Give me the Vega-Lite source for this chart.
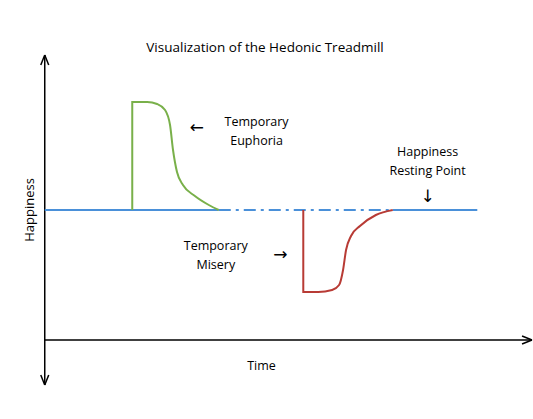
{
  "$schema": "https://vega.github.io/schema/vega-lite/v6.json",
  "width": 533,
  "height": 419,
  "autosize": {"type": "fit", "contains": "padding"},
  "padding": 0,
  "background": "white",
  "config": {"view": {"stroke": null}},
  "title": {"text": "Visualization of the Hedonic Treadmill", "font": "Open Sans", "fontSize": 13.5, "fontWeight": "normal", "offset": -54, "color": "black"},
  "layer": [
    {
      "data": {"values": [
        {"x": 45, "y": 55, "x2": 45, "y2": 385},
        {"x": 45, "y": 340, "x2": 535, "y2": 340},
        {"x": 45, "y": 55, "x2": 41, "y2": 65},
        {"x": 45, "y": 55, "x2": 49, "y2": 65},
        {"x": 45, "y": 385, "x2": 41, "y2": 375},
        {"x": 45, "y": 385, "x2": 49, "y2": 375},
        {"x": 535, "y": 340, "x2": 525, "y2": 336},
        {"x": 535, "y": 340, "x2": 525, "y2": 344}
      ]},
      "mark": {"type": "rule", "color": "black", "strokeWidth": 1.5},
      "encoding": {
        "x": {"field": "x", "type": "quantitative", "scale": {"domain": [0, 533]}, "axis": null},
        "y": {"field": "y", "type": "quantitative", "scale": {"domain": [419, 0]}, "axis": null},
        "x2": {"field": "x2"},
        "y2": {"field": "y2"}
      }
    },
    {
      "data": {"values": [
        {"s": "a", "x": 45, "y": 210}, {"s": "a", "x": 220, "y": 210},
        {"s": "c", "x": 395, "y": 210}, {"s": "c", "x": 480, "y": 210}
      ]},
      "mark": {"type": "line", "color": "#4a90d9", "strokeWidth": 1.8},
      "encoding": {
        "x": {"field": "x", "type": "quantitative", "scale": {"domain": [0, 533]}, "axis": null},
        "y": {"field": "y", "type": "quantitative", "scale": {"domain": [419, 0]}, "axis": null},
        "detail": {"field": "s"}
      }
    },
    {
      "data": {"values": [{"x": 220, "y": 210}, {"x": 395, "y": 210}]},
      "mark": {"type": "line", "color": "#4a90d9", "strokeWidth": 1.8, "strokeDash": [12, 5, 3, 5]},
      "encoding": {
        "x": {"field": "x", "type": "quantitative", "scale": {"domain": [0, 533]}, "axis": null},
        "y": {"field": "y", "type": "quantitative", "scale": {"domain": [419, 0]}, "axis": null}
      }
    },
    {
      "data": {"values": [
        {"i": 0, "x": 133, "y": 210}, {"i": 1, "x": 133, "y": 102}, {"i": 2, "x": 148, "y": 102},
        {"i": 3, "x": 158, "y": 104}, {"i": 4, "x": 166, "y": 110}, {"i": 5, "x": 171, "y": 125},
        {"i": 6, "x": 174, "y": 150}, {"i": 7, "x": 178, "y": 172}, {"i": 8, "x": 184, "y": 185},
        {"i": 9, "x": 196, "y": 196}, {"i": 10, "x": 210, "y": 205}, {"i": 11, "x": 220, "y": 210}
      ]},
      "mark": {"type": "line", "color": "#79b04a", "strokeWidth": 2, "interpolate": "monotone"},
      "encoding": {
        "x": {"field": "x", "type": "quantitative", "scale": {"domain": [0, 533]}, "axis": null},
        "y": {"field": "y", "type": "quantitative", "scale": {"domain": [419, 0]}, "axis": null},
        "order": {"field": "i"}
      }
    },
    {
      "data": {"values": [
        {"i": 0, "x": 305, "y": 210}, {"i": 1, "x": 305, "y": 292}, {"i": 2, "x": 320, "y": 292},
        {"i": 3, "x": 334, "y": 290}, {"i": 4, "x": 341, "y": 285}, {"i": 5, "x": 345, "y": 270},
        {"i": 6, "x": 348, "y": 250}, {"i": 7, "x": 353, "y": 236}, {"i": 8, "x": 362, "y": 226},
        {"i": 9, "x": 378, "y": 215}, {"i": 10, "x": 395, "y": 210}
      ]},
      "mark": {"type": "line", "color": "#b83b35", "strokeWidth": 2, "interpolate": "monotone"},
      "encoding": {
        "x": {"field": "x", "type": "quantitative", "scale": {"domain": [0, 533]}, "axis": null},
        "y": {"field": "y", "type": "quantitative", "scale": {"domain": [419, 0]}, "axis": null},
        "order": {"field": "i"}
      }
    },
    {
      "data": {"values": [
        {"t": "Temporary", "x": 258, "y": 122},
        {"t": "Euphoria", "x": 258, "y": 141},
        {"t": "Temporary", "x": 217, "y": 246},
        {"t": "Misery", "x": 217, "y": 265},
        {"t": "Happiness", "x": 430, "y": 152},
        {"t": "Resting Point", "x": 430, "y": 171},
        {"t": "Time", "x": 263, "y": 366}
      ]},
      "mark": {"type": "text", "font": "Open Sans", "fontSize": 12.5, "color": "black"},
      "encoding": {
        "x": {"field": "x", "type": "quantitative", "scale": {"domain": [0, 533]}, "axis": null},
        "y": {"field": "y", "type": "quantitative", "scale": {"domain": [419, 0]}, "axis": null},
        "text": {"field": "t"}
      }
    },
    {
      "data": {"values": [
        {"t": "←", "x": 198, "y": 128},
        {"t": "→", "x": 282, "y": 255},
        {"t": "↓", "x": 430, "y": 197}
      ]},
      "mark": {"type": "text", "font": "DejaVu Sans", "fontSize": 17, "color": "black"},
      "encoding": {
        "x": {"field": "x", "type": "quantitative", "scale": {"domain": [0, 533]}, "axis": null},
        "y": {"field": "y", "type": "quantitative", "scale": {"domain": [419, 0]}, "axis": null},
        "text": {"field": "t"}
      }
    },
    {
      "data": {"values": [{"t": "Happiness", "x": 30, "y": 210}]},
      "mark": {"type": "text", "font": "Open Sans", "fontSize": 13, "angle": 270, "color": "black"},
      "encoding": {
        "x": {"field": "x", "type": "quantitative", "scale": {"domain": [0, 533]}, "axis": null},
        "y": {"field": "y", "type": "quantitative", "scale": {"domain": [419, 0]}, "axis": null},
        "text": {"field": "t"}
      }
    }
  ]
}
